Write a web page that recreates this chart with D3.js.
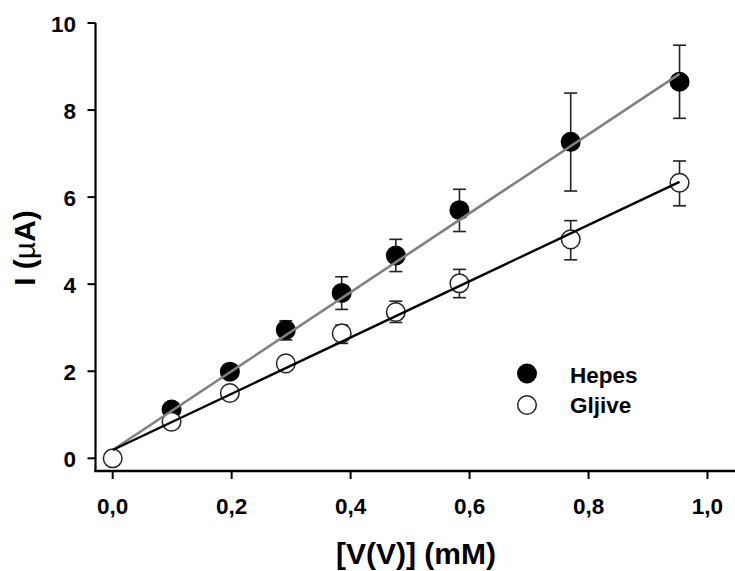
<!DOCTYPE html>
<html>
<head>
<meta charset="utf-8">
<script src="https://cdn.jsdelivr.net/npm/d3@7"></script>
<style>
  html, body { margin: 0; padding: 0; background: #fff; }
  svg { display: block; }
  text { font-family: "Liberation Sans", Arial, sans-serif; font-weight: bold; fill: #000; }
</style>
</head>
<body>
<svg id="chart" width="735" height="571"></svg>
<script>
// ---- data ----
const concentrations = [0.0, 0.099, 0.197, 0.291, 0.385, 0.476, 0.583, 0.770, 0.953];
const hepesMean  = [null, 1.12, 1.99, 2.95, 3.80, 4.66, 5.70, 7.27, 8.65];
const hepesLow   = [null, 1.05, 1.92, 2.72, 3.42, 4.29, 5.21, 6.14, 7.81];
const hepesHigh  = [null, 1.19, 2.06, 3.16, 4.17, 5.03, 6.18, 8.39, 9.49];
const gljiveMean = [0.0, 0.84, 1.50, 2.18, 2.87, 3.36, 4.02, 5.03, 6.33];
const gljiveLow  = [0.0, 0.80, 1.45, 2.10, 2.64, 3.12, 3.69, 4.56, 5.80];
const gljiveHigh = [0.0, 0.88, 1.55, 2.26, 3.06, 3.61, 4.34, 5.46, 6.83];
const hepesFitX  = [0.0, 0.953];
const hepesFitY  = [0.19, 8.83];
const gljiveFitX = [0.0, 0.953];
const gljiveFitY = [0.19, 6.35];
const xTicks = [0.0, 0.2, 0.4, 0.6, 0.8, 1.0];
const yTicks = [0, 2, 4, 6, 8, 10];
const seriesNames = ["Hepes", "Gljive"];
const xTitle = "[V(V)] (mM)";

// ---- layout ----
const svg = d3.select("#chart");
const x = d3.scaleLinear().domain([0, 1]).range([112.7, 707.5]);
const y = d3.scaleLinear().domain([0, 10]).range([458.3, 23]);
const axisX = 95.5, axisY = 471;
const fmt = d => d3.format(".1f")(d).replace(".", ",");

// axes lines
svg.append("line").attr("x1", axisX).attr("x2", axisX).attr("y1", y(10)).attr("y2", axisY + 1)
  .attr("stroke", "#000").attr("stroke-width", 2.2);
svg.append("line").attr("x1", axisX - 1).attr("x2", 735).attr("y1", axisY).attr("y2", axisY)
  .attr("stroke", "#000").attr("stroke-width", 2.4);

// y ticks
const yg = svg.append("g");
yTicks.forEach(t => {
  yg.append("line").attr("x1", axisX - 8).attr("x2", axisX).attr("y1", y(t)).attr("y2", y(t))
    .attr("stroke", "#000").attr("stroke-width", 2);
  yg.append("text").attr("x", 76).attr("y", y(t) + 8.5).attr("text-anchor", "end")
    .attr("font-size", 22.5).text(t);
});
// x ticks
const xg = svg.append("g");
xTicks.forEach(t => {
  xg.append("line").attr("x1", x(t)).attr("x2", x(t)).attr("y1", axisY).attr("y2", axisY + 8)
    .attr("stroke", "#000").attr("stroke-width", 2);
  xg.append("text").attr("x", x(t)).attr("y", 513.5).attr("text-anchor", "middle")
    .attr("font-size", 22.5).text(fmt(t));
});

// titles
svg.append("text").attr("x", 416).attr("y", 564).attr("text-anchor", "middle")
  .attr("font-size", 30).text(xTitle);
const yt = svg.append("text").attr("transform", "translate(35,248) rotate(-90)")
  .attr("text-anchor", "middle").attr("font-size", 30);
yt.append("tspan").text("I (");
yt.append("tspan").attr("font-weight", "normal").text("\u00B5");
yt.append("tspan").text("A)");

// error bars
function errorBars(low, high) {
  const g = svg.append("g").attr("stroke", "#222").attr("stroke-width", 1.6);
  concentrations.forEach((c, i) => {
    if (low[i] == null) return;
    const cx = x(c);
    g.append("line").attr("x1", cx).attr("x2", cx).attr("y1", y(low[i])).attr("y2", y(high[i]));
    [low[i], high[i]].forEach(v => g.append("line").attr("x1", cx - 6.5).attr("x2", cx + 6.5)
      .attr("y1", y(v)).attr("y2", y(v)));
  });
}
errorBars(hepesLow, hepesHigh);
errorBars(gljiveLow, gljiveHigh);

// markers
const r = 10;
svg.append("g").selectAll("circle")
  .data(concentrations.map((c, i) => [c, hepesMean[i]]).filter(d => d[1] != null))
  .join("circle").attr("cx", d => x(d[0])).attr("cy", d => y(d[1])).attr("r", r)
  .attr("fill", "#000");
svg.append("g").selectAll("circle")
  .data(concentrations.map((c, i) => [c, gljiveMean[i]]))
  .join("circle").attr("cx", d => x(d[0])).attr("cy", d => y(d[1])).attr("r", r - 0.7)
  .attr("fill", "#fff").attr("stroke", "#222").attr("stroke-width", 1.5);

// fit lines
const line = d3.line().x(d => x(d[0])).y(d => y(d[1]));
svg.append("path").attr("d", line(hepesFitX.map((v, i) => [v, hepesFitY[i]])))
  .attr("stroke", "#808080").attr("stroke-width", 2.6).attr("fill", "none");
svg.append("path").attr("d", line(gljiveFitX.map((v, i) => [v, gljiveFitY[i]])))
  .attr("stroke", "#000").attr("stroke-width", 2.4).attr("fill", "none");

// legend
const lg = svg.append("g");
lg.append("circle").attr("cx", 527).attr("cy", 373.5).attr("r", r).attr("fill", "#000");
lg.append("circle").attr("cx", 527).attr("cy", 405).attr("r", r - 0.7)
  .attr("fill", "#fff").attr("stroke", "#222").attr("stroke-width", 1.5);
lg.append("text").attr("x", 570).attr("y", 383).attr("font-size", 22.5).text(seriesNames[0]);
lg.append("text").attr("x", 570).attr("y", 413).attr("font-size", 22.5).text(seriesNames[1]);
</script>
</body>
</html>
